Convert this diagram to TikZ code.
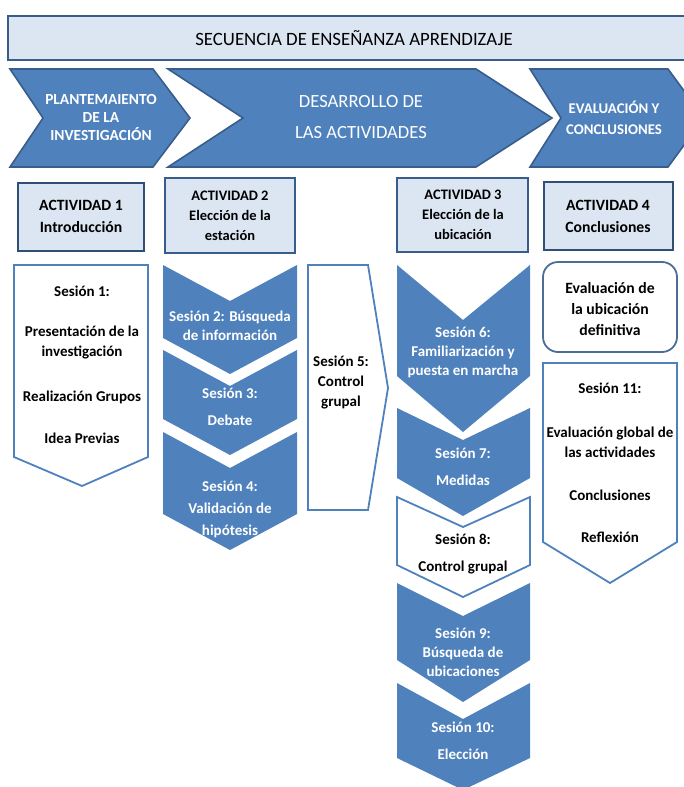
\documentclass[tikz,border=0pt]{standalone}
\usepackage{fontspec}
\setmainfont{Carlito}
\definecolor{sesblue}{HTML}{4F81BD}
\definecolor{darkline}{HTML}{385D8A}
\definecolor{lightfill}{HTML}{DCE6F2}
\begin{document}
\begin{tikzpicture}[x=1pt,y=-1pt,
    bluechev/.style={fill=sesblue, draw=none},
    topchev/.style={fill=sesblue, draw=darkline, line width=1.6pt, line join=miter},
    whitebox/.style={fill=white, draw=sesblue, line width=1.8pt, line join=miter},
    actbox/.style={fill=lightfill, draw=darkline, line width=1.3pt},
    actboxbold/.style={fill=lightfill, draw=darkline!85!black, line width=2.4pt},
    wtext/.style={text=white, align=center, font=\bfseries\fontsize{15}{19}\selectfont},
    btext/.style={text=black, align=center, font=\bfseries\fontsize{15}{20}\selectfont}]
    \useasboundingbox (0,0) rectangle (684,787);
    % title
    \draw[fill=lightfill, draw=darkline, line width=1.6pt] (8,16) rectangle (700,60);
    \node[font=\fontsize{18.8}{20}\selectfont] (titulo) at (354,38) {SECUENCIA DE ENSEÑANZA APRENDIZAJE};
    % phases
    \draw[topchev] (10,69) -- (153,69) -- (190,118) -- (153,167) -- (10,167) -- (43,118) -- cycle;
    \draw[topchev] (168,69) -- (476,69) -- (552,118) -- (476,167) -- (168,167) -- (243,118) -- cycle;
    \draw[topchev] (530,69) -- (668,69) -- (704,118) -- (668,167) -- (530,167) -- (561,118) -- cycle;
    \node[text=white, align=center, font=\bfseries\fontsize{15.4}{18}\selectfont] (fase1) at (101,118) {PLANTEMAIENTO\\DE LA\\INVESTIGACIÓN};
    \node[text=white, align=center, font=\fontsize{18.6}{31}\selectfont] (fase2) at (361,117) {DESARROLLO DE\\LAS ACTIVIDADES};
    \node[text=white, align=center, font=\bfseries\fontsize{14.8}{21}\selectfont] (fase3) at (614,118) {EVALUACIÓN Y\\CONCLUSIONES};
    % activities
    \draw[actboxbold] (18,183) rectangle (144,251);
    \draw[actbox] (165,178) rectangle (295,253);
    \draw[actbox] (397,178) rectangle (528,252);
    \draw[actboxbold] (544,182) rectangle (673,250);
    \node[btext, font=\bfseries\fontsize{15.7}{22}\selectfont] (act1) at (81,216) {ACTIVIDAD 1\\Introducción};
    \node[btext, font=\bfseries\fontsize{14.5}{20}\selectfont] (act2) at (230,216) {ACTIVIDAD 2\\Elección de la\\estación};
    \node[btext, font=\bfseries\fontsize{14.5}{20}\selectfont] (act3) at (463,215) {ACTIVIDAD 3\\Elección de la\\ubicación};
    \node[btext, font=\bfseries\fontsize{15.7}{22}\selectfont] (act4) at (608,216) {ACTIVIDAD 4\\Conclusiones};
    % column 1
    \draw[whitebox] (14,265) -- (148,265) -- (148,457) -- (82,486) -- (14,457) -- cycle;
    \node[btext] (s1a) at (82,291) {Sesión 1:};
    \node[btext] (s1b) at (82,343) {Presentación de la\\investigación};
    \node[btext] (s1c) at (82,397) {Realización Grupos};
    \node[btext] (s1d) at (82,438) {Idea Previas};
    % column 2
    \draw[bluechev] (163,265) -- (230,301) -- (297,265) -- (297,338) -- (230,374) -- (163,338) -- cycle;
    \draw[bluechev] (163,350) -- (230,386) -- (297,350) -- (297,419) -- (230,455) -- (163,419) -- cycle;
    \draw[bluechev] (163,432) -- (230,468) -- (297,432) -- (297,514) -- (230,550) -- (163,514) -- cycle;
    \node[wtext] (s2) at (230,326) {Sesión 2: Búsqueda\\de información};
    \node[wtext, font=\bfseries\fontsize{15}{27}\selectfont] (s3) at (230,407) {Sesión 3:\\Debate};
    \node[wtext, font=\bfseries\fontsize{15}{22}\selectfont] (s4) at (230,509) {Sesión 4:\\Validación de\\hipótesis};
    % session 5
    \draw[whitebox] (308,265) -- (368,265) -- (388,388) -- (368,510) -- (308,510) -- cycle;
    \node[btext] (s5) at (341,383) {Sesión 5:\\Control\\grupal};
    % column 3
    \draw[bluechev] (397,265) -- (463,320) -- (530,265) -- (530,376) -- (463,432) -- (397,376) -- cycle;
    \draw[bluechev] (397,408) -- (463,440) -- (530,408) -- (530,478) -- (463,516) -- (397,478) -- cycle;
    \draw[whitebox] (397,497) -- (463,527) -- (530,497) -- (530,565) -- (463,597) -- (397,565) -- cycle;
    \draw[bluechev] (397,583) -- (463,616) -- (530,583) -- (530,660) -- (463,702) -- (397,660) -- cycle;
    \draw[bluechev] (397,683) -- (463,719) -- (530,683) -- (530,758) -- (463,790) -- (397,758) -- cycle;
    \node[wtext] (s6) at (463,352) {Sesión 6:\\Familiarización y\\puesta en marcha};
    \node[wtext, font=\bfseries\fontsize{15}{27}\selectfont] (s7) at (463,467) {Sesión 7:\\Medidas};
    \node[btext, font=\bfseries\fontsize{15}{27}\selectfont] (s8) at (463,554) {Sesión 8:\\Control grupal};
    \node[wtext] (s9) at (463,652) {Sesión 9:\\Búsqueda de\\ubicaciones};
    \node[wtext, font=\bfseries\fontsize{15}{27}\selectfont] (s10) at (463,741) {Sesión 10:\\Elección};
    % column 4
    \draw[fill=white, draw=darkline!90, line width=1.8pt, rounded corners=15pt] (543,262) rectangle (677,352);
    \node[btext, font=\bfseries\fontsize{15.7}{21}\selectfont] (eval) at (610,309) {Evaluación de\\la ubicación\\definitiva};
    \draw[whitebox] (543,363) -- (677,363) -- (677,542) -- (610,583) -- (543,542) -- cycle;
    \node[btext] (s11a) at (610,388) {Sesión 11:};
    \node[btext] (s11b) at (610,442) {Evaluación global de\\las actividades};
    \node[btext] (s11c) at (610,495) {Conclusiones};
    \node[btext] (s11d) at (610,537) {Reflexión};
\end{tikzpicture}
\end{document}
